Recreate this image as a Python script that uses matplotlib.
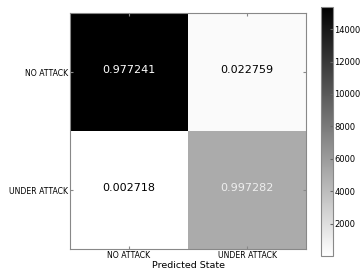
import numpy as np
import matplotlib
matplotlib.use('Agg')
import matplotlib.pyplot as plt

# class labels and data
labels = ['NO ATTACK', 'UNDER ATTACK']
counts = np.array([[15362, 358],
                   [14, 5100]])
normed = np.array([[0.977241, 0.022759],
                   [0.002718, 0.997282]])

fig = plt.figure(figsize=(3.6, 2.7), dpi=100)
ax = fig.add_axes([70 / 360, 21 / 270, 236 / 360, 236 / 270])
cax = fig.add_axes([321 / 360, 14 / 270, 12 / 360, 249 / 270])

im = ax.imshow(counts, cmap='gray_r', interpolation='nearest', aspect='auto')
cb = fig.colorbar(im, cax=cax, ticks=[2000, 4000, 6000, 8000, 10000, 12000, 14000])
cb.ax.tick_params(labelsize=6, direction='in', length=2, color='#666666', pad=1)
cb.outline.set_edgecolor('#888888')

# подписи в ячейках
for i in range(2):
    for j in range(2):
        col = 'white' if counts[i, j] > 4000 else 'black'
        if i == 1 and j == 1:
            col = '#eeeeee'
        ax.text(j, i - 0.02, '%f' % normed[i, j], ha='center', va='center',
                fontsize=8, color=col)

ax.set_xticks([0, 1])
ax.set_yticks([0, 1])
ax.set_xticklabels(labels)
ax.set_yticklabels(labels)
ax.tick_params(labelsize=5.6, direction='in', length=2, color='#888888',
               top=True, right=True, pad=1.5)
for s in ax.spines.values():
    s.set_edgecolor('#888888')
ax.set_xlabel('Predicted State', fontsize=6.8, labelpad=0.5)

plt.savefig('out.png', dpi=100)
